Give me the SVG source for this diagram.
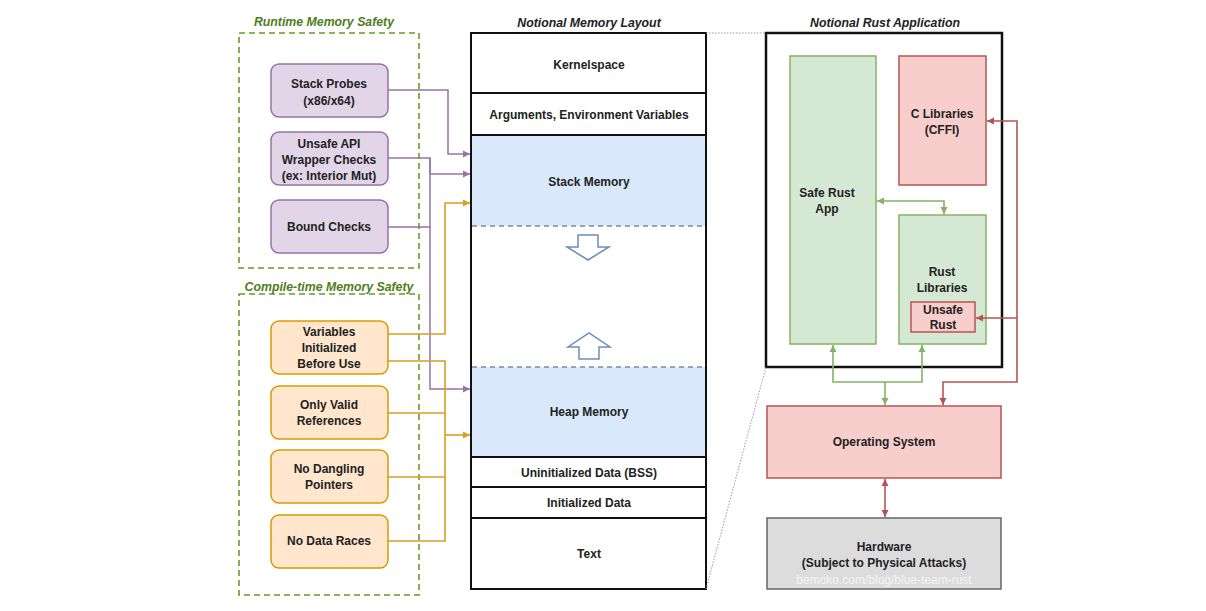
<svg xmlns="http://www.w3.org/2000/svg" width="1206" height="611" viewBox="0 0 1206 611">
<style>
text{font-family:"Liberation Sans",Arial,sans-serif;font-weight:bold;font-size:12px;fill:#222;text-anchor:middle}
.title{font-style:italic;font-size:12.3px}
.gt{fill:#4f7d1c}
.grp{fill:none;stroke:#6a9a2a;stroke-width:1.6;stroke-dasharray:6 4}
.pb{fill:#e1d5e7;stroke:#9673a6;stroke-width:1.5}
.ob{fill:#ffe6cc;stroke:#d79b00;stroke-width:1.5}
.mem{fill:#fff;stroke:#111;stroke-width:2}
.blue{fill:#dae8fc;stroke:none}
.dash{stroke:#7a8a9a;stroke-width:1.5;stroke-dasharray:5 4;fill:none}
.gr{fill:#d5e8d4;stroke:#82b366;stroke-width:1.5}
.rd{fill:#f8cecc;stroke:#b85450;stroke-width:1.5}
.hw{fill:#dcdcdc;stroke:#666;stroke-width:1.5}
.pc{fill:none;stroke:#9673a6;stroke-width:1.5}
.oc{fill:none;stroke:#d6a020;stroke-width:1.6}
.gc{fill:none;stroke:#82b366;stroke-width:1.6}
.rc{fill:none;stroke:#b85450;stroke-width:1.6}
.dot{fill:none;stroke:#999;stroke-width:1;stroke-dasharray:1.5 1.5}
.bar{fill:#fff;stroke:#6c8ebf;stroke-width:1.5}
</style>
<defs>
<marker id="ap" markerWidth="8" markerHeight="8" refX="7" refY="4" orient="auto" markerUnits="userSpaceOnUse"><path d="M0,0.5 L7,4 L0,7.5 Z" fill="#9673a6"/></marker>
<marker id="ao" markerWidth="8" markerHeight="8" refX="7" refY="4" orient="auto" markerUnits="userSpaceOnUse"><path d="M0,0.5 L7,4 L0,7.5 Z" fill="#d6a020"/></marker>
<marker id="ag" markerWidth="8" markerHeight="8" refX="7" refY="4" orient="auto-start-reverse" markerUnits="userSpaceOnUse"><path d="M0,0.5 L7,4 L0,7.5 Z" fill="#82b366"/></marker>
<marker id="ar" markerWidth="8" markerHeight="8" refX="7" refY="4" orient="auto-start-reverse" markerUnits="userSpaceOnUse"><path d="M0,0.5 L7,4 L0,7.5 Z" fill="#b85450"/></marker>
</defs>
<rect width="1206" height="611" fill="#fff"/>

<g id="runtime-group">
<rect class="grp" x="239" y="33" width="180" height="235"/>
<text class="title gt" x="324" y="26">Runtime Memory Safety</text>
</g>
<g id="compile-group">
<rect class="grp" x="239" y="294" width="180" height="301"/>
<text class="title gt" x="329" y="291">Compile-time Memory Safety</text>
</g>

<g id="stack-probes"><rect class="pb" x="271" y="64" width="117" height="53" rx="8"/><text x="329" y="88">Stack Probes</text><text x="329" y="105">(x86/x64)</text></g>
<g id="unsafe-api"><rect class="pb" x="271" y="132" width="117" height="53" rx="8"/><text x="329" y="148">Unsafe API</text><text x="329" y="164">Wrapper Checks</text><text x="329" y="180">(ex: Interior Mut)</text></g>
<g id="bound-checks"><rect class="pb" x="271" y="200" width="117" height="53" rx="8"/><text x="329" y="231">Bound Checks</text></g>

<g id="variables-init"><rect class="ob" x="271" y="321" width="117" height="53" rx="8"/><text x="329" y="336">Variables</text><text x="329" y="352">Initialized</text><text x="329" y="368">Before Use</text></g>
<g id="valid-refs"><rect class="ob" x="271" y="386" width="117" height="53" rx="8"/><text x="329" y="409">Only Valid</text><text x="329" y="425">References</text></g>
<g id="no-dangling"><rect class="ob" x="271" y="450" width="117" height="53" rx="8"/><text x="329" y="473">No Dangling</text><text x="329" y="489">Pointers</text></g>
<g id="no-races"><rect class="ob" x="271" y="515" width="117" height="53" rx="8"/><text x="329" y="545">No Data Races</text></g>

<g id="memory-layout">
<text class="title" x="589" y="27">Notional Memory Layout</text>
<rect class="mem" x="471" y="33" width="235" height="556"/>
<rect class="blue" x="472" y="136" width="233" height="90"/>
<rect class="blue" x="472" y="367" width="233" height="90"/>
<line x1="471" y1="93" x2="706" y2="93" stroke="#111" stroke-width="2"/>
<line x1="471" y1="135" x2="706" y2="135" stroke="#111" stroke-width="2"/>
<line class="dash" x1="472" y1="226" x2="705" y2="226"/>
<line class="dash" x1="472" y1="367" x2="705" y2="367"/>
<line x1="471" y1="457" x2="706" y2="457" stroke="#111" stroke-width="2"/>
<line x1="471" y1="487" x2="706" y2="487" stroke="#111" stroke-width="2"/>
<line x1="471" y1="518" x2="706" y2="518" stroke="#111" stroke-width="2"/>
<path class="bar" d="M578,235 H598 V247 H609 L588,260 L567,247 H578 Z"/>
<path class="bar" d="M579,359 H599 V347 H610 L589,333 L568,347 H579 Z"/>
<text x="589" y="69">Kernelspace</text>
<text x="589" y="119">Arguments, Environment Variables</text>
<text x="589" y="186">Stack Memory</text>
<text x="589" y="416">Heap Memory</text>
<text x="589" y="477">Uninitialized Data (BSS)</text>
<text x="589" y="507">Initialized Data</text>
<text x="589" y="558">Text</text>
</g>

<g id="rust-app">
<text class="title" x="885" y="27">Notional Rust Application</text>
<rect x="766" y="33" width="236" height="334" fill="#fff" stroke="#111" stroke-width="2.5"/>
</g>
<g id="safe-rust"><rect class="gr" x="790" y="56" width="86" height="288"/><text x="827" y="197">Safe Rust</text><text x="827" y="213">App</text></g>
<g id="c-libs"><rect class="rd" x="899" y="56" width="87" height="129"/><text x="942" y="118">C Libraries</text><text x="942" y="134">(CFFI)</text></g>
<g id="rust-libs"><rect class="gr" x="899" y="215" width="87" height="129"/><text x="942" y="276">Rust</text><text x="942" y="292">Libraries</text></g>
<g id="unsafe-rust"><rect class="rd" x="911" y="302" width="64" height="30"/><text x="943" y="314">Unsafe</text><text x="943" y="329">Rust</text></g>
<g id="os"><rect class="rd" x="767" y="406" width="234" height="72"/><text x="884" y="446">Operating System</text></g>
<g id="hardware"><rect class="hw" x="767" y="518" width="234" height="71"/><text x="884" y="551">Hardware</text><text x="884" y="567">(Subject to Physical Attacks)</text><text x="884" y="584" style="fill:#f4f4f4;font-weight:normal;font-size:12px">bemoko.com/blog/blue-team-rust</text></g>

<g id="connectors">
<line class="dot" x1="706" y1="33" x2="766" y2="33"/>
<line class="dot" x1="706" y1="589" x2="766" y2="367"/>
<path class="pc" d="M388,90 H448 V154 H470" marker-end="url(#ap)"/>
<path class="pc" d="M388,158 H430 V174 H470" marker-end="url(#ap)"/>
<path class="pc" d="M388,227 H430"/>
<path class="pc" d="M430,158 V389 H470" marker-end="url(#ap)"/>
<path class="oc" d="M388,334 H445 V203 H470" marker-end="url(#ao)"/>
<path class="oc" d="M388,361 H445 V541 H388"/>
<path class="oc" d="M388,413 H445"/>
<path class="oc" d="M388,477 H445"/>
<path class="oc" d="M445,435 H470" marker-end="url(#ao)"/>
<path class="gc" d="M877,201 H944 V214" marker-start="url(#ag)" marker-end="url(#ag)"/>
<path class="gc" d="M833,345 V382 H922 V345" marker-start="url(#ag)" marker-end="url(#ag)"/>
<path class="gc" d="M885,382 V405" marker-end="url(#ag)"/>
<path class="rc" d="M987,121 H1017 V382 H943 V405" marker-start="url(#ar)" marker-end="url(#ar)"/>
<path class="rc" d="M1017,318 H976" marker-end="url(#ar)"/>
<path class="rc" d="M885,479 V517" marker-start="url(#ar)" marker-end="url(#ar)"/>
</g>
</svg>
